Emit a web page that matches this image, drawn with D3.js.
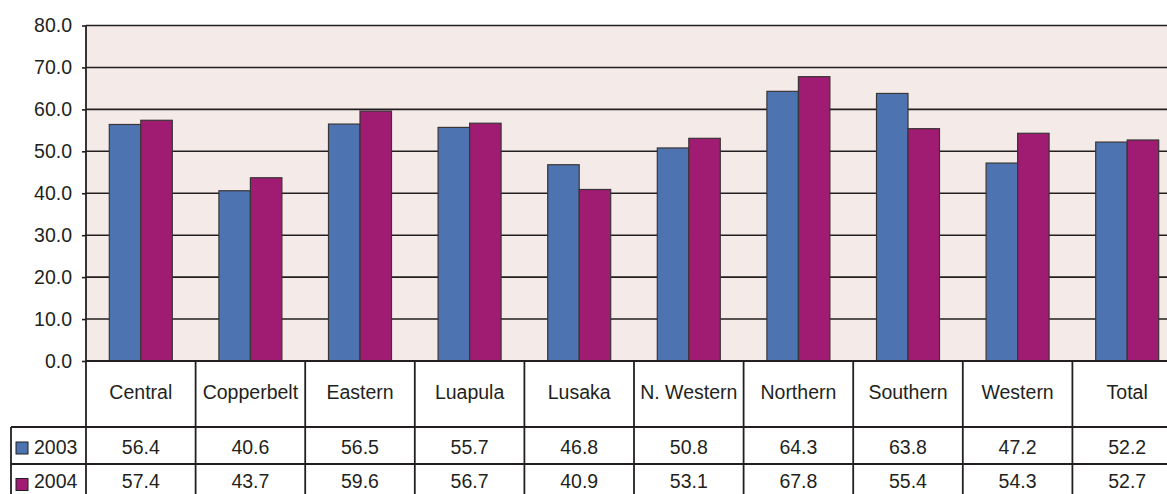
<!DOCTYPE html>
<html>
<head>
<meta charset="utf-8">
<script src="https://cdn.jsdelivr.net/npm/d3@7"></script>
<style>
  html, body { margin: 0; padding: 0; background: #fff; }
  svg { display: block; font-family: "Liberation Sans", Arial, sans-serif; }
</style>
</head>
<body>
<svg id="chart" width="1167" height="494"></svg>
<script>
// Provinces and yearly values
const categories = ["Central", "Copperbelt", "Eastern", "Luapula", "Lusaka", "N. Western", "Northern", "Southern", "Western", "Total"];
const years = ["2003", "2004"];
const values2003 = [56.4, 40.6, 56.5, 55.7, 46.8, 50.8, 64.3, 63.8, 47.2, 52.2];
const values2004 = [57.4, 43.7, 59.6, 56.7, 40.9, 53.1, 67.8, 55.4, 54.3, 52.7];
const yTicks = [0, 10, 20, 30, 40, 50, 60, 70, 80];

const seriesValues = [values2003, values2004];
const colors = ["#4d74b0", "#a01b72"];
const ink = "#231f20";
const fontSize = 19.5;

const svg = d3.select("#chart");
const W = 1167;

const x0 = 86, bandW = 109.6;
const x = d3.scaleBand().domain(categories).range([x0, x0 + bandW * categories.length]).paddingInner(0).paddingOuter(0);
const xs = d3.scaleBand().domain(years).range([0, x.bandwidth()]).paddingInner(0).paddingOuter(0.74);
const y = d3.scaleLinear().domain([0, 80]).range([361, 25.5]);

// Plot background
svg.append("rect")
  .attr("x", x0).attr("y", y(80))
  .attr("width", W - x0).attr("height", y(0) - y(80))
  .attr("fill", "#f4eae8");

// Value axis: tick marks and labels
const yAxis = d3.axisLeft(y).tickValues(yTicks).tickFormat(d3.format(".1f")).tickSize(4).tickPadding(10);
const gy = svg.append("g").attr("transform", `translate(${x0},0)`).call(yAxis)
  .attr("font-size", fontSize).attr("font-family", "Liberation Sans, Arial, sans-serif");
gy.select(".domain").remove();
gy.selectAll(".tick line").attr("stroke", ink).attr("stroke-width", 1.6);
gy.selectAll(".tick text").attr("fill", ink);

// Horizontal gridlines
svg.append("g").selectAll("line").data(yTicks.filter(d => d > 0)).join("line")
  .attr("x1", x0).attr("x2", W)
  .attr("y1", d => y(d)).attr("y2", d => y(d))
  .attr("stroke", ink).attr("stroke-width", 1.6);

// Bars
const groups = svg.append("g").selectAll("g").data(categories).join("g")
  .attr("transform", d => `translate(${x(d)},0)`);
groups.selectAll("rect").data((d, i) => years.map((yr, k) => ({ yr, k, v: seriesValues[k][i] }))).join("rect")
  .attr("x", d => xs(d.yr))
  .attr("y", d => y(d.v))
  .attr("width", xs.bandwidth())
  .attr("height", d => y(0) - y(d.v))
  .attr("fill", d => colors[d.k])
  .attr("stroke", "#3a3536")
  .attr("stroke-width", 1.2);

// Axis lines
svg.append("line").attr("x1", x0).attr("x2", x0).attr("y1", y(80)).attr("y2", 494)
  .attr("stroke", ink).attr("stroke-width", 1.8);
svg.append("line").attr("x1", x0).attr("x2", W).attr("y1", y(0)).attr("y2", y(0))
  .attr("stroke", ink).attr("stroke-width", 1.8);

// Data table
const tableLeft = 11, rowTop = [427, 464], rowBottom = 494;
const table = svg.append("g").attr("font-size", fontSize).attr("fill", ink);

// column separators
table.selectAll("line.col").data(categories.slice(1)).join("line")
  .attr("class", "col")
  .attr("x1", d => x(d)).attr("x2", d => x(d))
  .attr("y1", y(0)).attr("y2", rowBottom)
  .attr("stroke", ink).attr("stroke-width", 1.8);

// row separators
table.selectAll("line.row").data(rowTop).join("line")
  .attr("class", "row")
  .attr("x1", tableLeft).attr("x2", W)
  .attr("y1", d => d).attr("y2", d => d)
  .attr("stroke", ink).attr("stroke-width", 1.8);
table.append("line")
  .attr("x1", tableLeft).attr("x2", tableLeft)
  .attr("y1", rowTop[0]).attr("y2", rowBottom)
  .attr("stroke", ink).attr("stroke-width", 1.8);

// category labels
table.selectAll("text.cat").data(categories).join("text")
  .attr("class", "cat")
  .attr("x", d => x(d) + x.bandwidth() / 2)
  .attr("y", 398.5)
  .attr("text-anchor", "middle")
  .text(d => d);

// value rows with legend keys
const baselines = [454, 488];
const keyTops = [442, 478.5];
years.forEach((yr, k) => {
  table.selectAll(`text.v${k}`).data(categories).join("text")
    .attr("class", `v${k}`)
    .attr("x", d => x(d) + x.bandwidth() / 2)
    .attr("y", baselines[k])
    .attr("text-anchor", "middle")
    .text((d, i) => seriesValues[k][i].toFixed(1));

  table.append("rect")
    .attr("x", 16).attr("y", keyTops[k])
    .attr("width", 12).attr("height", 12)
    .attr("fill", colors[k]).attr("stroke", ink).attr("stroke-width", 1);
  table.append("text")
    .attr("x", 34).attr("y", baselines[k])
    .text(yr);
});
</script>
</body>
</html>
